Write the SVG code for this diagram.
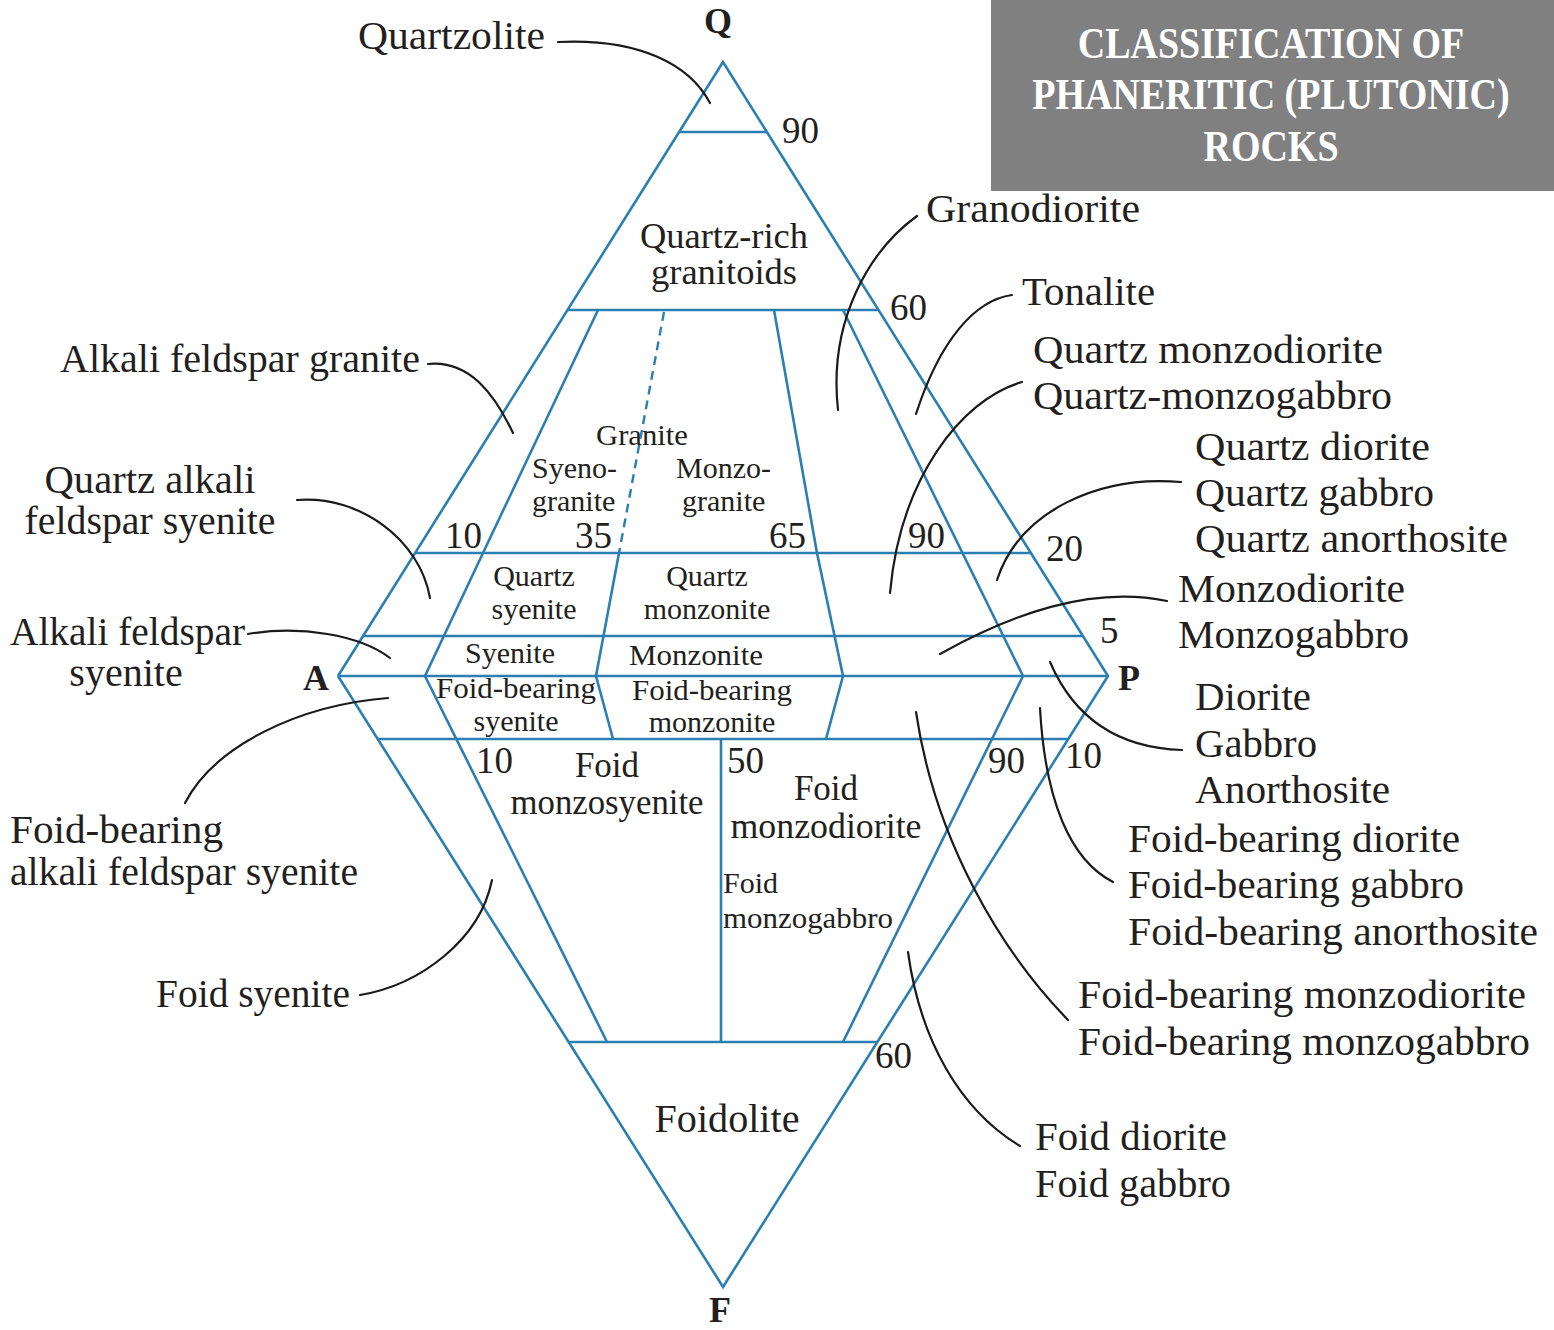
<svg xmlns="http://www.w3.org/2000/svg" width="1554" height="1330" viewBox="0 0 1554 1330">
<style>
  .frame{fill:none;stroke:#2b7fb2;stroke-width:2.6;stroke-linejoin:miter}
  .dash{fill:none;stroke:#2b7fb2;stroke-width:2.4;stroke-dasharray:9 6}
  .lead{fill:none;stroke:#1a1a1a;stroke-width:2.2;stroke-linecap:round}
  text{font-family:"Liberation Serif","Times New Roman",serif;fill:#231f20}
  .big{font-size:40px}
  .mid{font-size:35px}
  .sm{font-size:30px}
  .num{font-size:37px}
  .apex{font-size:36px;font-weight:bold}
  .c{text-anchor:middle}
  .title{font-family:"Liberation Serif",serif;font-weight:bold;font-size:38px;fill:#ffffff;text-anchor:middle}
</style>
<rect x="0" y="0" width="1554" height="1330" fill="#ffffff"/>

<g id="title">
  <rect x="991" y="0" width="563" height="191" fill="#808080"/>
  <text class="title" x="0" y="0" transform="translate(1271,58) scale(1,1.18)">CLASSIFICATION OF</text>
  <text class="title" x="0" y="0" transform="translate(1271,109) scale(1,1.18)">PHANERITIC (PLUTONIC)</text>
  <text class="title" x="0" y="0" transform="translate(1271,161) scale(1,1.18)">ROCKS</text>
</g>

<g id="frame">
  <polyline class="frame" points="338,676 723,62 1108,676 723,1287 338,676"/>
  <line class="frame" x1="679" y1="132" x2="767" y2="132"/>
  <line class="frame" x1="567" y1="310" x2="879" y2="310"/>
  <line class="frame" x1="415" y1="553" x2="1031" y2="553"/>
  <line class="frame" x1="363" y1="636" x2="1083" y2="636"/>
  <line class="frame" x1="338" y1="676" x2="1108" y2="676"/>
  <line class="frame" x1="378" y1="739" x2="1068" y2="739"/>
  <line class="frame" x1="569" y1="1042" x2="877" y2="1042"/>
  <polyline class="frame" points="598,310 483,553 425,676 607,1042"/>
  <line class="dash" x1="664" y1="312" x2="619" y2="553"/>
  <polyline class="frame" points="619,553 596,676 613,739"/>
  <polyline class="frame" points="774,310 817,553 843,676 826,739"/>
  <polyline class="frame" points="843,310 1023,676 843,1042"/>
  <line class="frame" x1="721" y1="739" x2="721" y2="1042"/>
</g>

<g id="apices">
  <text id="apex-Q" class="apex c" x="718" y="33">Q</text>
  <text id="apex-A" class="apex c" x="316" y="690">A</text>
  <text id="apex-P" class="apex c" x="1129" y="690">P</text>
  <text id="apex-F" class="apex c" x="720" y="1322">F</text>
</g>

<g id="numbers">
  <text class="num" x="782" y="143">90</text>
  <text class="num" x="890" y="320">60</text>
  <text class="num" x="445" y="548">10</text>
  <text class="num" x="575" y="548">35</text>
  <text class="num" x="769" y="548">65</text>
  <text class="num" x="908" y="548">90</text>
  <text class="num" x="1046" y="561">20</text>
  <text class="num" x="1100" y="643">5</text>
  <text class="num" x="476" y="773">10</text>
  <text class="num" x="727" y="773">50</text>
  <text class="num" x="988" y="773">90</text>
  <text class="num" x="1065" y="768">10</text>
  <text class="num" x="875" y="1068">60</text>
</g>

<g id="field-quartz-rich"><text class="mid c" x="724" y="248" textLength="168" lengthAdjust="spacingAndGlyphs">Quartz-rich</text><text class="mid c" x="724" y="284" textLength="146" lengthAdjust="spacingAndGlyphs">granitoids</text></g>
<g id="field-granite"><text class="sm c" x="642" y="445" textLength="92" lengthAdjust="spacingAndGlyphs">Granite</text></g>
<g id="field-syenogranite"><text class="sm" x="532" y="478">Syeno-</text><text class="sm" x="532" y="511">granite</text></g>
<g id="field-monzogranite"><text class="sm" x="676" y="478">Monzo-</text><text class="sm" x="682" y="511">granite</text></g>
<g id="field-quartz-syenite"><text class="sm c" x="534" y="586">Quartz</text><text class="sm c" x="534" y="619">syenite</text></g>
<g id="field-quartz-monzonite"><text class="sm c" x="707" y="586">Quartz</text><text class="sm c" x="707" y="619">monzonite</text></g>
<g id="field-syenite"><text class="sm c" x="510" y="663">Syenite</text></g>
<g id="field-monzonite"><text class="sm c" x="696" y="665" textLength="134" lengthAdjust="spacingAndGlyphs">Monzonite</text></g>
<g id="field-foid-bearing-syenite"><text class="sm c" x="516" y="698" textLength="160" lengthAdjust="spacingAndGlyphs">Foid-bearing</text><text class="sm c" x="516" y="731">syenite</text></g>
<g id="field-foid-bearing-monzonite"><text class="sm c" x="712" y="700" textLength="160" lengthAdjust="spacingAndGlyphs">Foid-bearing</text><text class="sm c" x="712" y="732">monzonite</text></g>
<g id="field-foid-monzosyenite"><text class="mid c" x="607" y="777">Foid</text><text class="mid c" x="607" y="814" textLength="193" lengthAdjust="spacingAndGlyphs">monzosyenite</text></g>
<g id="field-foid-monzodiorite"><text class="mid c" x="826" y="800">Foid</text><text class="mid c" x="826" y="838" textLength="191" lengthAdjust="spacingAndGlyphs">monzodiorite</text></g>
<g id="field-foid-monzogabbro"><text class="sm" x="723" y="893">Foid</text><text class="sm" x="723" y="928" textLength="170" lengthAdjust="spacingAndGlyphs">monzogabbro</text></g>
<g id="field-foidolite"><text class="big c" x="727" y="1132" textLength="145" lengthAdjust="spacingAndGlyphs">Foidolite</text></g>

<g id="label-quartzolite"><text class="big" x="358" y="49" textLength="187" lengthAdjust="spacingAndGlyphs">Quartzolite</text></g>
<g id="label-alkali-feldspar-granite"><text class="big" x="60" y="372" textLength="360" lengthAdjust="spacingAndGlyphs">Alkali feldspar granite</text></g>
<g id="label-quartz-alkali-feldspar-syenite"><text class="big c" x="150" y="493" textLength="211" lengthAdjust="spacingAndGlyphs">Quartz alkali</text><text class="big c" x="150" y="534" textLength="251" lengthAdjust="spacingAndGlyphs">feldspar syenite</text></g>
<g id="label-alkali-feldspar-syenite"><text class="big" x="10" y="645" textLength="235" lengthAdjust="spacingAndGlyphs">Alkali feldspar</text><text class="big c" x="126" y="686">syenite</text></g>
<g id="label-foid-bearing-alkali-feldspar-syenite"><text class="big" x="10" y="843" textLength="213" lengthAdjust="spacingAndGlyphs">Foid-bearing</text><text class="big" x="10" y="885" textLength="348" lengthAdjust="spacingAndGlyphs">alkali feldspar syenite</text></g>
<g id="label-foid-syenite"><text class="big" x="156" y="1007" textLength="194" lengthAdjust="spacingAndGlyphs">Foid syenite</text></g>
<g id="label-granodiorite"><text class="big" x="926" y="222" textLength="214" lengthAdjust="spacingAndGlyphs">Granodiorite</text></g>
<g id="label-tonalite"><text class="big" x="1022" y="305" textLength="133" lengthAdjust="spacingAndGlyphs">Tonalite</text></g>
<g id="label-quartz-monzodiorite"><text class="big" x="1033" y="363" textLength="350" lengthAdjust="spacingAndGlyphs">Quartz monzodiorite</text><text class="big" x="1033" y="409" textLength="359" lengthAdjust="spacingAndGlyphs">Quartz-monzogabbro</text></g>
<g id="label-quartz-diorite"><text class="big" x="1195" y="460" textLength="235" lengthAdjust="spacingAndGlyphs">Quartz diorite</text><text class="big" x="1195" y="506" textLength="239" lengthAdjust="spacingAndGlyphs">Quartz gabbro</text><text class="big" x="1195" y="552" textLength="313" lengthAdjust="spacingAndGlyphs">Quartz anorthosite</text></g>
<g id="label-monzodiorite"><text class="big" x="1178" y="602" textLength="227" lengthAdjust="spacingAndGlyphs">Monzodiorite</text><text class="big" x="1178" y="648" textLength="231" lengthAdjust="spacingAndGlyphs">Monzogabbro</text></g>
<g id="label-diorite"><text class="big" x="1195" y="710" textLength="116" lengthAdjust="spacingAndGlyphs">Diorite</text><text class="big" x="1195" y="757" textLength="122" lengthAdjust="spacingAndGlyphs">Gabbro</text><text class="big" x="1195" y="803" textLength="195" lengthAdjust="spacingAndGlyphs">Anorthosite</text></g>
<g id="label-foid-bearing-diorite"><text class="big" x="1128" y="852" textLength="332" lengthAdjust="spacingAndGlyphs">Foid-bearing diorite</text><text class="big" x="1128" y="898" textLength="336" lengthAdjust="spacingAndGlyphs">Foid-bearing gabbro</text><text class="big" x="1128" y="945" textLength="410" lengthAdjust="spacingAndGlyphs">Foid-bearing anorthosite</text></g>
<g id="label-foid-bearing-monzodiorite"><text class="big" x="1078" y="1008" textLength="448" lengthAdjust="spacingAndGlyphs">Foid-bearing monzodiorite</text><text class="big" x="1078" y="1055" textLength="452" lengthAdjust="spacingAndGlyphs">Foid-bearing monzogabbro</text></g>
<g id="label-foid-diorite"><text class="big" x="1035" y="1150" textLength="192" lengthAdjust="spacingAndGlyphs">Foid diorite</text><text class="big" x="1035" y="1197" textLength="196" lengthAdjust="spacingAndGlyphs">Foid gabbro</text></g>

<g id="connectors">
  <path class="lead" d="M558,42 C640,38 690,65 710,103"/>
  <path class="lead" d="M917,216 C870,250 828,320 838,410"/>
  <path class="lead" d="M1012,295 C975,300 940,340 916,414"/>
  <path class="lead" d="M1022,382 C960,400 900,480 890,593"/>
  <path class="lead" d="M1181,482 C1100,475 1020,510 997,580"/>
  <path class="lead" d="M1167,601 C1090,585 1010,615 940,654"/>
  <path class="lead" d="M1182,750 C1120,748 1075,720 1050,662"/>
  <path class="lead" d="M1113,882 C1070,860 1045,800 1040,708"/>
  <path class="lead" d="M1068,1020 C1000,950 935,840 916,712"/>
  <path class="lead" d="M1020,1146 C960,1110 920,1040 908,952"/>
  <path class="lead" d="M428,364 C470,360 495,395 513,433"/>
  <path class="lead" d="M297,500 C360,495 420,540 430,598"/>
  <path class="lead" d="M248,634 C300,625 360,635 390,658"/>
  <path class="lead" d="M388,698 C300,705 215,745 185,803"/>
  <path class="lead" d="M360,995 C420,985 480,940 492,880"/>
</g>
</svg>
